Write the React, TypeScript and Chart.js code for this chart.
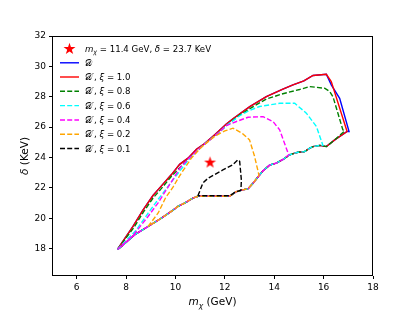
import React, { useEffect, useRef } from "react";
import { Chart, registerables } from "chart.js";

Chart.register(...registerables);

// ---------- data ----------
const xTicks = [6, 8, 10, 12, 14, 16, 18];
const yTicks = [18, 20, 22, 24, 26, 28, 30, 32];

// upper boundary of the full region (shared by D and D', xi=1.0)
const edgeUpperX = [7.65, 8.28, 8.69, 9.09, 9.36, 9.83, 10.17, 10.51, 10.85, 11.11, 11.59, 12.06, 12.33, 13.01, 13.68, 14.35, 14.76, 15.2, 15.57, 16.11];
const edgeUpperY = [17.95, 19.47, 20.56, 21.5, 22.0, 22.86, 23.55, 23.96, 24.55, 24.83, 25.49, 26.2, 26.55, 27.35, 28.01, 28.5, 28.78, 29.05, 29.4, 29.48];

const blueCornerX = [16.31, 16.65, 17.03];
const blueCornerY = [28.78, 27.9, 25.71];
const redCornerX = [16.31, 16.95];
const redCornerY = [29.0, 25.71];

// lower boundary, from right corner back to the tip
const lowerX = [16.95, 16.45, 16.11, 15.84, 15.57, 15.44, 15.23, 14.96, 14.83, 14.63, 14.36, 14.08, 13.81, 13.54, 13.34, 13.14, 12.94, 12.73, 12.47, 12.19, 10.91, 10.71, 10.37, 10.1, 9.83, 9.43, 8.89, 8.35, 7.74, 7.65];
const lowerY = [25.71, 25.16, 24.72, 24.8, 24.72, 24.62, 24.39, 24.35, 24.29, 24.18, 23.88, 23.63, 23.5, 23.12, 22.72, 22.3, 21.95, 21.87, 21.76, 21.45, 21.45, 21.33, 21.0, 20.78, 20.45, 20.01, 19.46, 18.92, 18.04, 17.95];

const green08X = [7.65, 8.3, 8.7, 9.1, 9.4, 9.83, 10.5, 11.1, 11.6, 12.1, 12.6, 13.2, 13.68, 14.35, 15.03, 15.44, 16.04, 16.25, 16.38, 16.78, 16.85];
const green08Y = [17.95, 19.35, 20.4, 21.35, 21.9, 22.75, 23.88, 24.78, 25.43, 26.15, 26.8, 27.4, 27.85, 28.2, 28.48, 28.67, 28.56, 28.34, 28.0, 25.82, 25.75];

const cyan06X = [7.65, 8.4, 8.9, 9.3, 9.7, 10.1, 10.5, 11.1, 11.6, 12.06, 12.6, 13.0, 13.41, 14.22, 14.83, 15.3, 15.71, 15.97];
const cyan06Y = [17.95, 19.2, 20.35, 21.25, 22.1, 22.95, 23.8, 24.78, 25.43, 26.1, 26.75, 27.1, 27.36, 27.57, 27.57, 26.92, 26.04, 24.8];

const magenta04X = [7.65, 8.3, 8.89, 9.29, 9.63, 9.95, 10.2, 10.51, 11.1, 11.6, 12.06, 12.47, 12.94, 13.55, 13.95, 14.22, 14.56, 14.6];
const magenta04Y = [17.95, 18.9, 20.12, 21.0, 21.87, 22.7, 23.35, 23.9, 24.78, 25.43, 26.1, 26.37, 26.65, 26.69, 26.37, 25.82, 24.29, 24.2];

const orange02X = [8.89, 9.3, 9.6, 9.9, 10.17, 10.64, 11.0, 11.25, 11.59, 12.0, 12.33, 12.7, 13.0, 13.2, 13.38];
const orange02Y = [19.46, 20.35, 21.35, 22.05, 22.8, 23.95, 24.6, 24.95, 25.4, 25.75, 25.93, 25.6, 25.16, 24.1, 22.85];

const black01X = [10.91, 11.11, 11.32, 11.92, 12.3, 12.53, 12.6, 12.67, 12.65, 12.4, 12.2, 10.91];
const black01Y = [21.48, 22.32, 22.64, 23.18, 23.5, 23.85, 23.75, 22.5, 21.85, 21.7, 21.48, 21.48];

const starX = [11.4];
const starY = [23.7];

const seriesLabels = ["D", "D', xi=1.0", "D', xi=0.8", "D', xi=0.6", "D', xi=0.4", "D', xi=0.2", "D', xi=0.1"];
const seriesColors = ["#0000ff", "#ff0000", "#008000", "#00ffff", "#ff00ff", "#ffa500", "#000000"];
const xiValues = ["1.0", "0.8", "0.6", "0.4", "0.2", "0.1"];

// ---------- helpers ----------
const pts = (xs: number[], ys: number[]) => xs.map((x, i) => ({ x, y: ys[i] }));
const lowerPts = pts(lowerX, lowerY);
const lowerBetween = (xMax: number, xMin: number) =>
  lowerPts.filter((p) => p.x < xMax && p.x >= xMin);

const FONT = "'DejaVu Sans', Verdana, sans-serif";
const DASH = [5, 2.2];

function makeStar(r: number, color: string) {
  const c = document.createElement("canvas");
  const s = Math.ceil(r * 2 + 2);
  c.width = s;
  c.height = s;
  const g = c.getContext("2d")!;
  drawStar(g, s / 2, s / 2 + r * 0.08, r, color);
  return c;
}

function drawStar(g: CanvasRenderingContext2D, cx: number, cy: number, r: number, color: string) {
  const ri = r * 0.382;
  g.beginPath();
  for (let i = 0; i < 10; i++) {
    const rr = i % 2 === 0 ? r : ri;
    const a = -Math.PI / 2 + (i * Math.PI) / 5;
    const px = cx + rr * Math.cos(a);
    const py = cy + rr * Math.sin(a);
    if (i === 0) g.moveTo(px, py);
    else g.lineTo(px, py);
  }
  g.closePath();
  g.fillStyle = color;
  g.fill();
}

type Seg = { t: string; it?: boolean; size?: number; dy?: number };

function drawRich(g: CanvasRenderingContext2D, x: number, y: number, segs: Seg[], base: number, align: "left" | "center" = "left") {
  g.textBaseline = "alphabetic";
  g.textAlign = "left";
  const fontOf = (s: Seg) => `${s.it ? "italic " : ""}${s.size || base}px ${FONT}`;
  if (align === "center") {
    let w = 0;
    for (const s of segs) {
      g.font = fontOf(s);
      w += g.measureText(s.t).width;
    }
    x -= w / 2;
  }
  for (const s of segs) {
    g.font = fontOf(s);
    g.fillText(s.t, x, y + (s.dy || 0));
    x += g.measureText(s.t).width;
  }
}

const overlayPlugin = {
  id: "overlay",
  afterDraw(chart: any) {
    const g: CanvasRenderingContext2D = chart.ctx;
    const a = chart.chartArea;
    g.save();
    // frame
    g.strokeStyle = "#000";
    g.lineWidth = 1;
    g.setLineDash([]);
    g.strokeRect(Math.round(a.left) + 0.5, Math.round(a.top) + 0.5, Math.round(a.right - a.left) - 1, Math.round(a.bottom - a.top) - 1);

    g.fillStyle = "#000";
    // x title
    drawRich(g, (a.left + a.right) / 2, 305, [
      { t: "m", it: true },
      { t: "χ", it: true, size: 7.5, dy: 2.5 },
      { t: " (GeV)" },
    ], 10.5, "center");
    // y title
    g.save();
    g.translate(28, (a.top + a.bottom) / 2);
    g.rotate(-Math.PI / 2);
    drawRich(g, 0, 0, [{ t: "δ", it: true }, { t: " (KeV)" }], 10.5, "center");
    g.restore();

    // legend
    const lx0 = 60, lx1 = 79, tx = 85;
    const rows = [49, 62.8, 77, 91.3, 105.6, 120, 134.3, 148.5];
    const fs = 8.6;
    drawStar(g, (lx0 + lx1) / 2, rows[0], 6.3, "#ff0000");
    g.fillStyle = "#000";
    drawRich(g, tx, rows[0] + 3, [
      { t: "m", it: true },
      { t: "χ", it: true, size: 6.2, dy: 2 },
      { t: " = 11.4 GeV, " },
      { t: "δ", it: true },
      { t: " = 23.7 KeV" },
    ], fs);
    for (let i = 0; i < 7; i++) {
      const y = rows[i + 1];
      g.strokeStyle = seriesColors[i];
      g.lineWidth = 1.4;
      g.setLineDash(i < 2 ? [] : DASH);
      g.beginPath();
      g.moveTo(lx0, y);
      g.lineTo(lx1, y);
      g.stroke();
      g.setLineDash([]);
      g.fillStyle = "#000";
      if (i === 0) {
        drawRich(g, tx, y + 3, [{ t: "𝒟" }], fs);
      } else {
        drawRich(g, tx, y + 3, [
          { t: "𝒟′" },
          { t: ", " },
          { t: "ξ", it: true },
          { t: " = " + xiValues[i - 1] },
        ], fs);
      }
    }
    g.restore();
  },
};

export default function App() {
  const ref = useRef<HTMLCanvasElement>(null);
  useEffect(() => {
    document.body.style.margin = "0";
    const lineDs = (label: string, data: any[], color: string, dashed: boolean, order: number) => ({
      label,
      data,
      borderColor: color,
      backgroundColor: color,
      borderWidth: 1.4,
      borderDash: dashed ? DASH : [],
      showLine: true,
      pointRadius: 0,
      tension: 0,
      fill: false,
      order,
    });
    const chart = new Chart(ref.current!, {
      type: "scatter",
      data: {
        datasets: [
          lineDs(seriesLabels[0], [...pts(edgeUpperX, edgeUpperY), ...pts(blueCornerX, blueCornerY), ...lowerPts], seriesColors[0], false, 8),
          lineDs(seriesLabels[1], [...pts(edgeUpperX, edgeUpperY), ...pts(redCornerX, redCornerY), ...lowerBetween(16.95, 0)], seriesColors[1], false, 7),
          lineDs(seriesLabels[2], [...pts(green08X, green08Y), ...lowerBetween(16.85, 0)], seriesColors[2], true, 6),
          lineDs(seriesLabels[3], [...pts(cyan06X, cyan06Y), ...lowerBetween(15.97, 0)], seriesColors[3], true, 5),
          lineDs(seriesLabels[4], [...pts(magenta04X, magenta04Y), ...lowerBetween(14.6, 0)], seriesColors[4], true, 4),
          lineDs(seriesLabels[5], [...pts(orange02X, orange02Y), ...lowerBetween(13.38, 8.89)], seriesColors[5], true, 3),
          lineDs(seriesLabels[6], pts(black01X, black01Y), seriesColors[6], true, 2),
          {
            label: "star",
            data: pts(starX, starY),
            pointStyle: makeStar(6.3, "#ff0000") as any,
            pointRadius: 6,
            showLine: false,
            order: 1,
          } as any,
        ],
      },
      options: {
        animation: false,
        responsive: false,
        maintainAspectRatio: false,
        layout: { padding: { left: 0, top: 36, right: 42, bottom: 0 } },
        plugins: { legend: { display: false }, tooltip: { enabled: false } },
        scales: {
          x: {
            type: "linear",
            min: 5,
            max: 18,
            afterBuildTicks: (s: any) => {
              s.ticks = xTicks.map((v) => ({ value: v }));
            },
            afterFit: (s: any) => {
              s.height = 35;
            },
            grid: { display: true, drawOnChartArea: false, drawTicks: true, tickLength: 3, color: "#000", lineWidth: 1 },
            border: { display: false },
            ticks: { color: "#000", font: { family: FONT, size: 9 }, padding: 3, maxRotation: 0, autoSkip: false },
          },
          y: {
            type: "linear",
            min: 16.2,
            max: 32,
            afterBuildTicks: (s: any) => {
              s.ticks = yTicks.map((v) => ({ value: v }));
            },
            afterFit: (s: any) => {
              s.width = 52;
            },
            grid: { display: true, drawOnChartArea: false, drawTicks: true, tickLength: 3, color: "#000", lineWidth: 1 },
            border: { display: false },
            ticks: { color: "#000", font: { family: FONT, size: 9 }, padding: 3, autoSkip: false },
          },
        },
      },
      plugins: [overlayPlugin],
    });
    return () => chart.destroy();
  }, []);
  return <canvas ref={ref} width={415} height={311} style={{ display: "block", width: 415, height: 311 }} />;
}
